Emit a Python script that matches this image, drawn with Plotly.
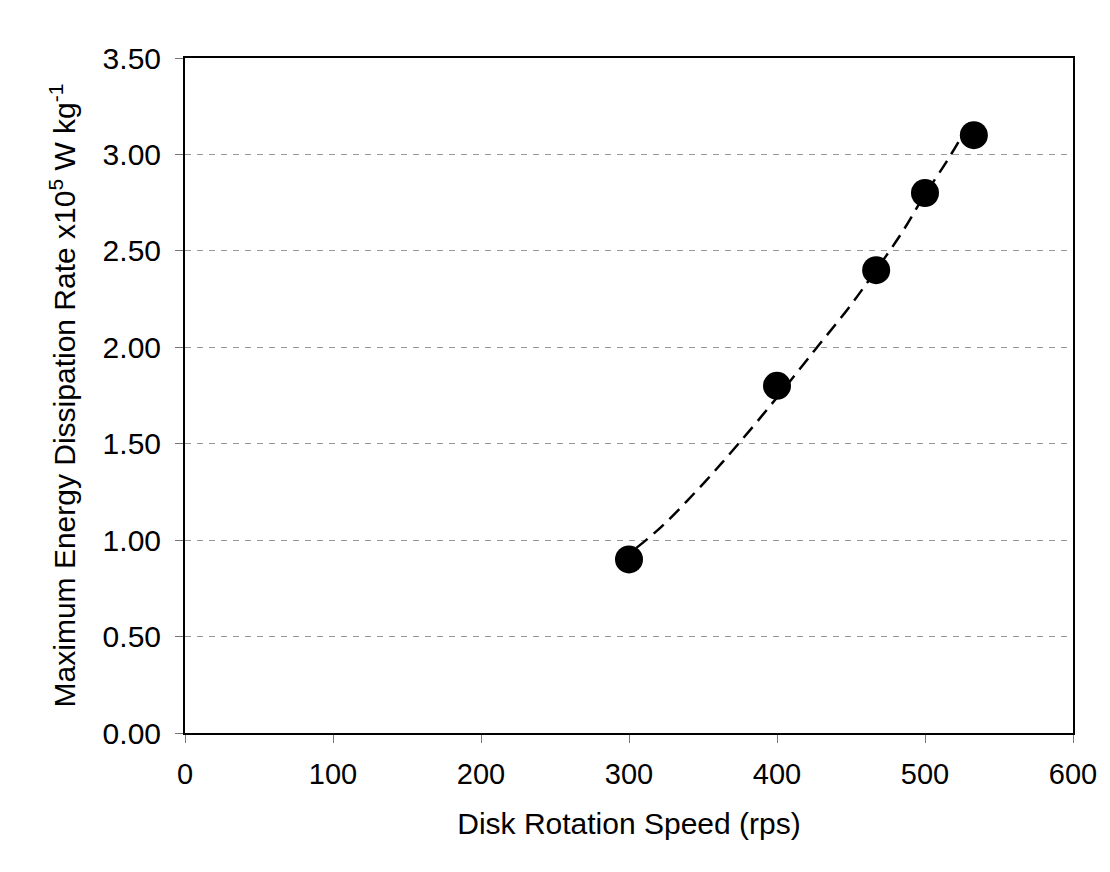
import plotly.graph_objects as go

speed = [300, 400, 467, 500, 533]
dissipation = [0.90, 1.80, 2.40, 2.80, 3.10]

trend_x = [305, 322, 351, 374, 400, 426, 448, 466, 484, 499, 516, 532]
trend_y = [0.96, 1.07, 1.30, 1.50, 1.74, 1.99, 2.20, 2.39, 2.59, 2.78, 2.98, 3.19]

x_ticks = [0, 100, 200, 300, 400, 500, 600]
y_ticks = [0.0, 0.5, 1.0, 1.5, 2.0, 2.5, 3.0, 3.5]
y_tick_text = ["%.2f" % v for v in y_ticks]

fig = go.Figure()
fig.add_trace(go.Scatter(
    x=trend_x, y=trend_y, mode="lines",
    line=dict(color="black", width=2.5, dash="14px,8px", shape="spline"),
    hoverinfo="skip", showlegend=False))
fig.add_trace(go.Scatter(
    x=speed, y=dissipation, mode="markers",
    marker=dict(color="black", size=28, line=dict(width=0)),
    showlegend=False))

font = "Liberation Sans, Arial, sans-serif"
fig.update_layout(
    width=1110, height=872,
    margin=dict(l=177, r=45, t=50, b=147),
    paper_bgcolor="white", plot_bgcolor="white",
    font=dict(family=font, color="black", size=29),
)
fig.update_xaxes(
    range=[0, 600], tickvals=x_ticks, ticks="outside", ticklen=8, tickcolor="#777",
    showgrid=False, zeroline=False, showline=True, linecolor="black", linewidth=2,
    mirror=True, tickfont=dict(size=29), ticklabelstandoff=6,
    title=dict(text="Disk Rotation Speed (rps)", font=dict(size=30), standoff=24),
)
fig.update_yaxes(
    range=[0, 3.5], tickvals=y_ticks, ticktext=y_tick_text, ticks="outside", ticklen=8,
    tickcolor="#777", showgrid=True, gridcolor="#999", griddash="6px,6px", gridwidth=1,
    zeroline=False, showline=True, linecolor="black", linewidth=2, mirror=True,
    tickfont=dict(size=30), ticklabelstandoff=8,
    title=dict(text="Maximum Energy Dissipation Rate x10<sup>5</sup> W kg<sup>-1</sup>",
               font=dict(size=30), standoff=18),
)
fig.write_html("out.html")
